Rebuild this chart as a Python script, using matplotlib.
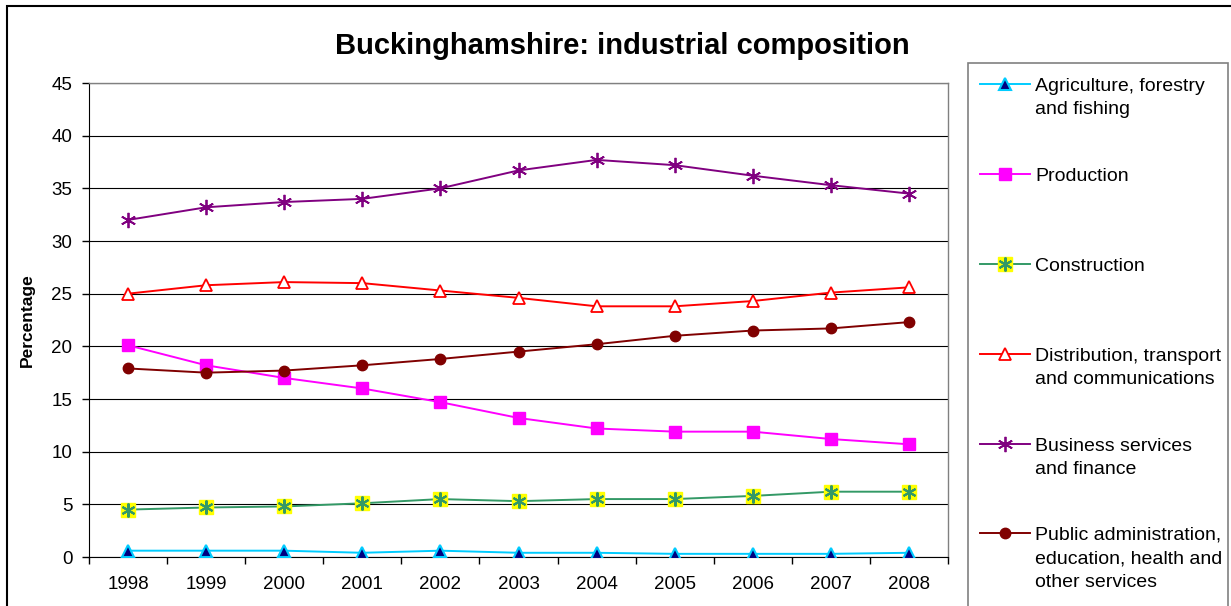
import matplotlib
matplotlib.use("Agg")
import matplotlib.pyplot as plt
from matplotlib.lines import Line2D
from matplotlib.patches import Rectangle

plt.rcParams['font.family'] = ['Liberation Sans', 'DejaVu Sans']

years = ["1998", "1999", "2000", "2001", "2002", "2003", "2004", "2005", "2006", "2007", "2008"]
agriculture = [0.6, 0.6, 0.6, 0.4, 0.6, 0.4, 0.4, 0.3, 0.3, 0.3, 0.4]
production = [20.1, 18.2, 17.0, 16.0, 14.7, 13.2, 12.2, 11.9, 11.9, 11.2, 10.7]
construction = [4.5, 4.7, 4.8, 5.1, 5.5, 5.3, 5.5, 5.5, 5.8, 6.2, 6.2]
distribution = [25.0, 25.8, 26.1, 26.0, 25.3, 24.6, 23.8, 23.8, 24.3, 25.1, 25.6]
business = [32.0, 33.2, 33.7, 34.0, 35.0, 36.7, 37.7, 37.2, 36.2, 35.3, 34.5]
public = [17.9, 17.5, 17.7, 18.2, 18.8, 19.5, 20.2, 21.0, 21.5, 21.7, 22.3]
labels = ["Agriculture, forestry\nand fishing", "Production", "Construction",
          "Distribution, transport\nand communications", "Business services\nand finance",
          "Public administration,\neducation, health and\nother services"]
title = "Buckinghamshire: industrial composition"
ylabel = "Percentage"

W, H = 1231, 606
fig = plt.figure(figsize=(W / 100, H / 100), dpi=100)
fig.patch.set_facecolor('white')

# outer chart border
fig.patches.append(Rectangle((7 / W, -0.05), 1.1, 1 - 6 / H + 0.05, transform=fig.transFigure,
                             fill=False, edgecolor='black', linewidth=1.5, zorder=0))

ax = fig.add_axes([89 / W, (H - 557) / H, (948 - 89) / W, (557 - 83) / H])
x = list(range(len(years)))

lw = 1.4
ax.plot(x, agriculture, color='#00CCFF', lw=lw, marker='^', ms=9, mfc='#000080',
        mec='#00CCFF', mew=1.5, zorder=5)
ax.plot(x, production, color='#FF00FF', lw=lw, marker='s', ms=8, mfc='#FF00FF',
        mec='#FF00FF', zorder=5)
ax.plot(x, construction, color='#339966', lw=lw, marker='s', ms=10, mfc='#FFFF00',
        mec='#FFFF00', zorder=5)
ax.plot(x, construction, ls='none', marker=(6, 2, 0), ms=10, mec='#339966', mew=1.5, zorder=6)
ax.plot(x, distribution, color='#FF0000', lw=lw, marker='^', ms=9, mfc='white',
        mec='#FF0000', mew=1.3, zorder=5)
ax.plot(x, business, color='#800080', lw=lw, marker=(6, 2, 0), ms=11, mec='#800080',
        mew=1.3, zorder=5)
ax.plot(x, public, color='#800000', lw=lw, marker='o', ms=7.5, mfc='#800000',
        mec='#800000', zorder=5)

ax.set_xlim(-0.5, len(years) - 0.5)
ax.set_ylim(0, 45)
ax.set_yticks(range(0, 46, 5))
ax.set_xticks(x)
ax.set_xticklabels(years)
ax.set_xticks([i - 0.5 for i in range(len(years) + 1)], minor=True)
ax.tick_params(axis='x', which='major', length=0, pad=14, labelsize=13.5)
ax.tick_params(axis='x', which='minor', length=5, width=1, direction='out')
ax.tick_params(axis='y', length=5, width=1, direction='out', labelsize=13.5, pad=7)
ax.grid(axis='y', color='black', linewidth=0.8)
ax.set_axisbelow(True)
for s in ['top', 'right']:
    ax.spines[s].set_color('#808080')
    ax.spines[s].set_linewidth(1)
ax.spines['left'].set_color('black')
ax.spines['bottom'].set_color('black')
ax.set_ylabel(ylabel, fontsize=12.5, fontweight='bold', labelpad=12)

fig.text(622 / W, 1 - 46 / H, title, ha='center', va='center', fontsize=21, fontweight='bold')

# legend box
fig.patches.append(Rectangle((968 / W, -0.05), (1228 - 968) / W, 1 - 63 / H + 0.05,
                             transform=fig.transFigure, fill=False, edgecolor='#808080',
                             linewidth=1.2, zorder=1))
centers = [84, 174, 264, 354, 444, 533]
styles = [
    [dict(color='#00CCFF', lw=lw, marker='^', ms=9, mfc='#000080', mec='#00CCFF', mew=1.5)],
    [dict(color='#FF00FF', lw=lw, marker='s', ms=8, mfc='#FF00FF', mec='#FF00FF')],
    [dict(color='#339966', lw=lw, marker='s', ms=10, mfc='#FFFF00', mec='#FFFF00'),
     dict(ls='none', marker=(6, 2, 0), ms=10, mec='#339966', mew=1.5)],
    [dict(color='#FF0000', lw=lw, marker='^', ms=9, mfc='white', mec='#FF0000', mew=1.3)],
    [dict(color='#800080', lw=lw, marker=(6, 2, 0), ms=11, mec='#800080', mew=1.3)],
    [dict(color='#800000', lw=lw, marker='o', ms=7.5, mfc='#800000', mec='#800000')],
]
for cy, lab, sty in zip(centers, labels, styles):
    yf = 1 - cy / H
    for st in sty:
        if st.get('ls') != 'none':
            ln = Line2D([980 / W, 1030 / W], [yf, yf], transform=fig.transFigure,
                        color=st['color'], lw=st['lw'])
            fig.lines.append(ln)
        mk = Line2D([1005 / W], [yf], transform=fig.transFigure,
                    **{k: v for k, v in st.items() if k not in ('lw', 'ls', 'color')}, ls='none')
        fig.lines.append(mk)
    fig.text(1035 / W, yf + 6 / H, lab, ha='left', va='top', fontsize=14, linespacing=1.5)

fig.savefig('out.png', dpi=100)
